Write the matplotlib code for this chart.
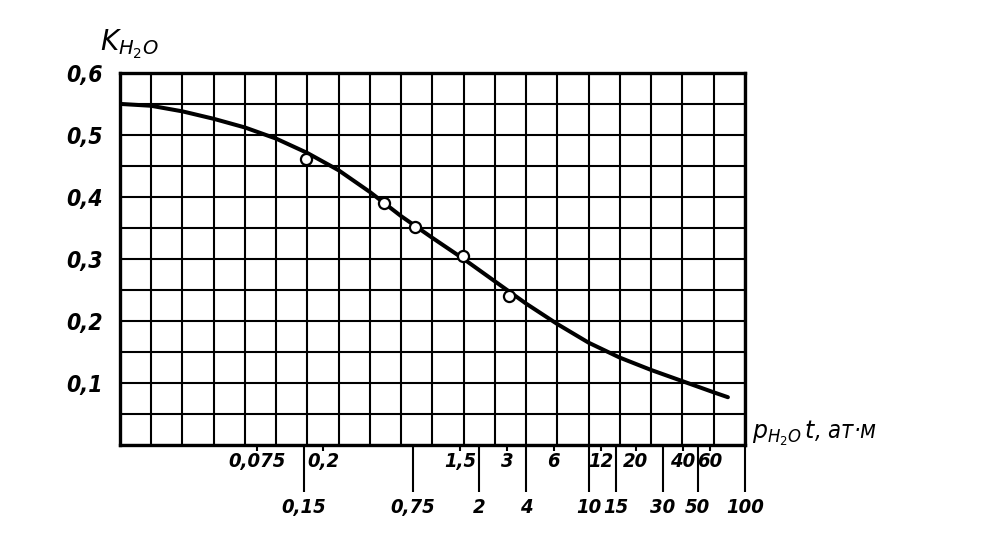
import numpy as np
import matplotlib
matplotlib.use("Agg")
import matplotlib.pyplot as plt
from matplotlib.ticker import FixedLocator, FixedFormatter

# ---- data ----
curve_p = [0.01, 0.0158, 0.0251, 0.0398, 0.0631, 0.1, 0.158, 0.251, 0.398, 0.631,
           1.0, 1.585, 2.51, 3.98, 6.31, 10.0, 15.8, 25.1, 39.8, 63.1, 78.0]
curve_k = [0.55, 0.547, 0.538, 0.526, 0.512, 0.494, 0.471, 0.443, 0.408, 0.369,
           0.334, 0.3, 0.264, 0.228, 0.195, 0.165, 0.141, 0.121, 0.103, 0.085, 0.077]

pts_p = [0.155, 0.49, 0.77, 1.57, 3.1]
pts_k = [0.461, 0.391, 0.352, 0.305, 0.241]

lower_ticks = [0.15, 0.75, 2, 4, 10, 15, 30, 50, 100]
lower_labels = ["0,15", "0,75", "2", "4", "10", "15", "30", "50", "100"]
upper_ticks = [0.075, 0.2, 1.5, 3, 6, 12, 20, 40, 60]
upper_labels = ["0,075", "0,2", "1,5", "3", "6", "12", "20", "40", "60"]
y_ticks = [0.1, 0.2, 0.3, 0.4, 0.5, 0.6]
y_labels = ["0,1", "0,2", "0,3", "0,4", "0,5", "0,6"]

fam = ["DejaVu Sans"]

def style_label(lab, size):
    lab.set_fontfamily(fam)
    lab.set_fontstyle("italic")
    lab.set_fontstretch("condensed")
    lab.set_fontweight("bold")
    lab.set_fontsize(size)

fig = plt.figure(figsize=(9.93, 5.40), dpi=100)
ax = fig.add_axes([0.1208, 0.176, 0.6292, 0.689])
ax.set_xscale("log")
ax.set_xlim(0.01, 100)
ax.set_ylim(0, 0.6)

# grid
for e in np.arange(-2, 2.001, 0.2):
    ax.axvline(10 ** e, color="black", lw=1.5, zorder=1)
for yv in np.arange(0, 0.6001, 0.05):
    ax.axhline(yv, color="black", lw=1.5, zorder=1)

ax.plot(curve_p, curve_k, color="black", lw=2.9, zorder=3,
        solid_capstyle="round", solid_joinstyle="round")
ax.plot(pts_p, pts_k, "o", ms=8, mfc="white", mec="black", mew=1.6, zorder=4)

for s in ax.spines.values():
    s.set_linewidth(2.4)

# x ticks: long ticks with lower labels, short ticks with upper labels
ax.xaxis.set_major_locator(FixedLocator(lower_ticks))
ax.xaxis.set_major_formatter(FixedFormatter(lower_labels))
ax.xaxis.set_minor_locator(FixedLocator(upper_ticks))
ax.xaxis.set_minor_formatter(FixedFormatter(upper_labels))
ax.tick_params(axis="x", which="major", direction="out", length=34, width=1.5, pad=4)
ax.tick_params(axis="x", which="minor", direction="out", length=4, width=1.5, pad=1)
for lab in ax.get_xticklabels(which="both"):
    style_label(lab, 14.5)

ax.set_yticks(y_ticks)
ax.set_yticklabels(y_labels)
ax.tick_params(axis="y", length=0, pad=12)
for lab in ax.get_yticklabels():
    style_label(lab, 16.5)

fig.text(0.101, 0.918, r"$K_{H_2O}$", fontsize=20, ha="left", va="center")
fig.text(0.757, 0.197, r"$p_{H_2O}\,t$" + ", ат·м", fontsize=17, ha="left", va="center",
         family=["DejaVu Sans"], style="italic", stretch="condensed")

fig.savefig("out.png", dpi=100)
